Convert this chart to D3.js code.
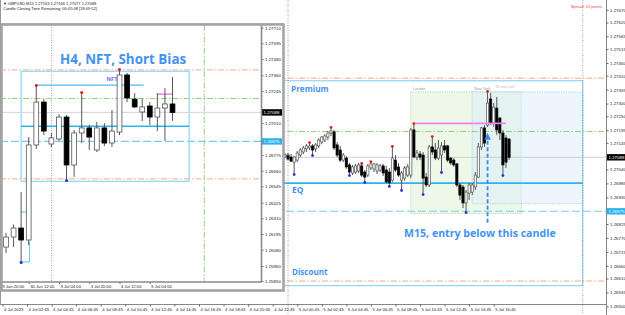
<!DOCTYPE html>
<html>
<head>
<meta charset="utf-8">
<script src="https://cdn.jsdelivr.net/npm/d3@7"></script>
<style>
  body { margin: 0; background: #fff; }
  svg { display: block; }
</style>
</head>
<body>
<div id="chart"></div>
<script>
// ---- M15 chart, bars counted from 4 Jul 00:45 (15 min each) ----
var mainFirstBar = 92;
var mainOpen = [1.27089,1.27097,1.27089,1.27069,1.27077,1.27097,1.27109,1.27121,1.27125,1.27133,
  1.27121,1.27133,1.27148,1.27156,1.27168,1.27184,1.27188,1.27137,1.27117,1.27077,
  1.27085,1.27058,1.27026,1.27030,1.27034,1.27054,1.27030,1.27018,1.27046,1.27042,
  1.27034,1.27038,1.27054,1.27038,1.27030,1.26998,1.27077,1.27050,1.26998,1.27006,
  1.27018,1.27018,1.27196,1.27089,1.27101,1.27097,1.27010,1.26979,1.27129,1.27117,
  1.27085,1.27097,1.27133,1.27133,1.27085,1.27077,1.27062,1.26979,1.26971,1.26908,
  1.26947,1.26951,1.26971,1.27010,1.27129,1.27204,1.27215,1.27318,1.27223,1.27282,
  1.27243,1.27184,1.27164,1.27160];
var mainHigh = [1.27105,1.27105,1.27101,1.27093,1.27113,1.27125,1.27133,1.27140,1.27144,1.27140,
  1.27144,1.27164,1.27172,1.27180,1.27192,1.27204,1.27196,1.27148,1.27133,1.27105,
  1.27093,1.27066,1.27058,1.27062,1.27066,1.27062,1.27038,1.27062,1.27069,1.27066,
  1.27066,1.27062,1.27062,1.27054,1.27046,1.27129,1.27097,1.27066,1.27034,1.27054,
  1.27062,1.27204,1.27219,1.27117,1.27113,1.27109,1.27026,1.27137,1.27168,1.27144,
  1.27156,1.27148,1.27156,1.27137,1.27089,1.27085,1.27066,1.26987,1.26979,1.26959,
  1.26987,1.26987,1.27030,1.27144,1.27208,1.27215,1.27346,1.27342,1.27302,1.27326,
  1.27247,1.27196,1.27176,1.27164];
var mainLow = [1.27085,1.27077,1.27069,1.27022,1.27069,1.27089,1.27101,1.27109,1.27117,1.27097,
  1.27109,1.27125,1.27140,1.27148,1.27156,1.27172,1.27117,1.27089,1.27069,1.27069,
  1.27042,1.27018,1.27018,1.27022,1.27026,1.27010,1.26991,1.27010,1.27038,1.27030,
  1.27022,1.27030,1.27014,1.26987,1.26975,1.26991,1.27030,1.27010,1.26959,1.26995,
  1.27010,1.27006,1.27085,1.27077,1.27077,1.26943,1.26971,1.26971,1.27097,1.27077,
  1.27077,1.27030,1.27105,1.27069,1.27058,1.27050,1.26971,1.26920,1.26888,1.26872,
  1.26920,1.26939,1.26959,1.27006,1.27117,1.27129,1.27208,1.27215,1.27208,1.27176,
  1.27156,1.27018,1.27046,1.27077];
var mainClose = [1.27097,1.27081,1.27073,1.27089,1.27105,1.27117,1.27125,1.27133,1.27133,1.27117,
  1.27137,1.27156,1.27168,1.27172,1.27184,1.27192,1.27125,1.27097,1.27077,1.27097,
  1.27050,1.27030,1.27050,1.27054,1.27058,1.27018,1.27010,1.27054,1.27062,1.27062,
  1.27058,1.27054,1.27026,1.26991,1.26987,1.27085,1.27038,1.27018,1.27026,1.27046,
  1.27050,1.27196,1.27089,1.27105,1.27089,1.27006,1.26979,1.27129,1.27109,1.27085,
  1.27125,1.27133,1.27117,1.27077,1.27066,1.27058,1.26979,1.26939,1.26908,1.26951,
  1.26979,1.26979,1.27018,1.27129,1.27204,1.27144,1.27302,1.27223,1.27286,1.27196,
  1.27184,1.27058,1.27069,1.27088];
var mainUpFractals = [100, 107, 117, 120, 127, 134, 140, 158];
var mainDownFractals = [95, 101, 113, 118, 126, 130, 137, 143, 151, 163];
var mainDaySeparators = [93, 189];
var mainTimeBars = [0, 8, 16, 24, 32, 40, 48, 56, 64, 72, 80, 88, 96, 104, 112, 120, 128, 136, 144, 152, 160];
var mainTimeLabels = ['4 Jul 2023', '4 Jul 02:45', '4 Jul 04:45', '4 Jul 06:45', '4 Jul 08:45', '4 Jul 10:45',
  '4 Jul 12:45', '4 Jul 14:45', '4 Jul 16:45', '4 Jul 18:45', '4 Jul 20:45', '4 Jul 22:45',
  '5 Jul 00:45', '5 Jul 02:45', '5 Jul 04:45', '5 Jul 06:45', '5 Jul 08:45', '5 Jul 10:45',
  '5 Jul 12:45', '5 Jul 14:45', '5 Jul 16:45'];
var mainPriceTicks = [1.27670, 1.27620, 1.27565, 1.27515, 1.27460, 1.27410, 1.27355, 1.27300, 1.27250,
  1.27195, 1.27145, 1.27040, 1.26985, 1.26930, 1.26825, 1.26770, 1.26715,
  1.26660, 1.26610, 1.26555, 1.26500];

// ---- H4 inset, bars counted from 30 Jun 00:00 (4 h each) ----
var h4Open = [1.26099,1.26173,1.26239,1.26151,1.26849,1.27164,1.26856,1.26893,1.27054,1.26702,1.26937,1.26974,
  1.26812,1.26974,1.26863,1.26944,1.27363,1.27186,1.27091,1.27135,1.27054,1.27120,1.27150];
var h4High = [1.26202,1.26265,1.26504,1.26907,1.27282,1.27186,1.26937,1.27076,1.27069,1.26959,1.27230,1.26996,
  1.27018,1.27010,1.27106,1.27399,1.27377,1.27230,1.27186,1.27164,1.27230,1.27267,1.27348];
var h4Low = [1.26056,1.26099,1.25990,1.26114,1.26819,1.26921,1.26834,1.26879,1.26592,1.26614,1.26863,1.26812,
  1.26797,1.26841,1.26834,1.26921,1.27164,1.27120,1.27025,1.26996,1.26951,1.26879,1.27025];
var h4Close = [1.26173,1.26239,1.26151,1.26849,1.27164,1.26951,1.26901,1.27054,1.26702,1.26937,1.26974,1.26907,
  1.26974,1.26863,1.26951,1.27363,1.27194,1.27128,1.27128,1.27054,1.27120,1.27150,1.27088];
var h4UpFractals = [4, 10, 15];
var h4DownFractals = [2, 8];
var h4TimeBars = [-1, 3, 7, 11, 15, 19];
var h4TimeLabels = ['29 Jun 20:00', '30 Jun 12:00', '3 Jul 04:00', '3 Jul 20:00', '4 Jul 12:00', '5 Jul 04:00'];
var h4PriceTicks = [1.27710, 1.27595, 1.27480, 1.27360, 1.27245, 1.27010, 1.26775, 1.26660,
  1.26545, 1.26425, 1.26310, 1.26195, 1.26080, 1.25960, 1.25850];
var h4Bracket = [[2, 1.26357], [2.8, 1.26357]];
var h4BracketLow = [[2, 1.25990], [3.1, 1.25990], [3.1, 1.26137]];

// ---- levels shared by both charts ----
var zoneLevels = [1.27390, 1.26986, 1.26582];   // premium top, EQ, discount bottom
var orangeLevels = [1.27400, 1.26600];
var greenLevel = 1.27190;
var dashedLevel = 1.26875;
var bidPrice = 1.27088;
var pinkLevel = 1.27222;
var nftLevel = 1.27288;
var sessionNames = ['London', 'New York'];
var sessionBars = [[133, 169], [153, 189]];
var sessionPrices = [[1.27346, 1.26866], [1.27346, 1.26905]];
var entryArrow = { bar: 158, from: 1.26830, to: 1.27185 };

var blueText = '#4393ee';
var zoneColor = '#8fd6f6';
var eqColor = '#2db4ef';
var orange = '#f2a07c';
var green = '#85cc74';
var dashDot = '6,2,1.5,2';

var svg = d3.select('#chart').append('svg')
  .attr('width', 625)
  .attr('height', 315);

var defs = svg.append('defs');
defs.append('clipPath').attr('id', 'clipMain').append('rect')
  .attr('x', 0).attr('y', 0).attr('width', 606).attr('height', 304);
defs.append('clipPath').attr('id', 'clipH4').append('rect')
  .attr('x', 3).attr('y', 25).attr('width', 258).attr('height', 257);

var hline = function(g, y, x1, x2, color, w, dash) {
  g.append('line')
    .attr('x1', x1).attr('x2', x2)
    .attr('y1', y).attr('y2', y)
    .attr('stroke', color)
    .attr('stroke-width', w)
    .attr('stroke-dasharray', dash || null);
};
var vline = function(g, x, y1, y2, color, w, dash) {
  g.append('line')
    .attr('x1', x).attr('x2', x)
    .attr('y1', y1).attr('y2', y2)
    .attr('stroke', color)
    .attr('stroke-width', w)
    .attr('stroke-dasharray', dash || null);
};

var drawCandles = function(g, x, y, first, O, H, L, C, bw, sw) {
  var idx = d3.range(O.length);
  g.append('g').selectAll('line').data(idx)
    .enter().append('line')
    .attr('x1', function(i) { return x(first + i); })
    .attr('x2', function(i) { return x(first + i); })
    .attr('y1', function(i) { return y(Math.max(H[i], O[i], C[i])); })
    .attr('y2', function(i) { return y(Math.min(L[i], O[i], C[i])); })
    .attr('stroke', '#444')
    .attr('stroke-width', 0.9);
  g.append('g').selectAll('rect').data(idx)
    .enter().append('rect')
    .attr('x', function(i) { return x(first + i) - bw / 2; })
    .attr('y', function(i) { return y(Math.max(O[i], C[i])); })
    .attr('width', bw)
    .attr('height', function(i) { return Math.max(0.8, Math.abs(y(O[i]) - y(C[i]))); })
    .attr('fill', function(i) { return C[i] >= O[i] ? '#fff' : '#000'; })
    .attr('stroke', function(i) { return C[i] >= O[i] ? '#555' : '#000'; })
    .attr('stroke-width', sw);
};

var drawFractals = function(g, x, y, bars, first, H, L, up, r) {
  g.append('g').selectAll('circle').data(bars)
    .enter().append('circle')
    .attr('cx', function(b) { return x(b); })
    .attr('cy', function(b) { return up ? y(H[b - first]) - 0.5 : y(L[b - first]) + 0.5; })
    .attr('r', r)
    .attr('fill', up ? '#e31a1a' : '#1a30e6');
};

var priceLabel = function(g, x, y, w, value, bg) {
  g.append('rect').attr('x', x).attr('y', y - 3.2).attr('width', w).attr('height', 6.4).attr('fill', bg);
  g.append('text').attr('x', x + 1.5).attr('y', y + 1.6)
    .attr('font-family', 'Liberation Sans, Arial, sans-serif')
    .attr('font-size', 4.4).attr('fill', '#fff')
    .text(d3.format('.5f')(value));
};

// ================= M15 chart =================
var xMain = d3.scaleLinear().domain([0, 160]).range([2.5, 493.7]);
var yMain = d3.scaleLinear().domain([1.26500, 1.27460]).range([306.4, 63]);

var main = svg.append('g');
var plot = main.append('g').attr('clip-path', 'url(#clipMain)');

// session boxes
sessionNames.forEach(function(name, s) {
  var fills = ['#dcf1d2', '#dcedfb'];
  var strokes = ['#9fd894', '#9ccdf0'];
  plot.append('rect')
    .attr('x', xMain(sessionBars[s][0]))
    .attr('y', yMain(sessionPrices[s][0]))
    .attr('width', xMain(sessionBars[s][1]) - xMain(sessionBars[s][0]))
    .attr('height', yMain(sessionPrices[s][1]) - yMain(sessionPrices[s][0]))
    .attr('fill', fills[s]).attr('fill-opacity', 0.5)
    .attr('stroke', strokes[s]).attr('stroke-width', 0.8)
    .attr('stroke-dasharray', '1.2,1.2');
  plot.append('text')
    .attr('x', xMain(sessionBars[s][0]) + 2)
    .attr('y', yMain(sessionPrices[s][0]) - 2)
    .attr('font-family', 'Liberation Sans, Arial, sans-serif')
    .attr('font-size', 3.8).attr('fill', '#9a9a9a')
    .text(name);
});
plot.append('text')
  .attr('x', xMain(160.5)).attr('y', yMain(sessionPrices[1][0]) - 4)
  .attr('font-family', 'Liberation Sans, Arial, sans-serif')
  .attr('font-size', 3.8).attr('fill', '#bdbdbd')
  .text('10 mins left');

// day separators
mainDaySeparators.forEach(function(b) {
  vline(main, xMain(b), 0, 315, '#888', 0.8, '1,1.5');
});

// horizontal levels
orangeLevels.forEach(function(p) { hline(plot, yMain(p), 0, 606, orange, 0.9, dashDot); });
hline(plot, yMain(greenLevel), 0, 606, green, 0.9, dashDot);
hline(plot, yMain(bidPrice), 0, 606, '#c8c8c8', 0.9);
hline(plot, yMain(dashedLevel), 0, 606, '#78cbef', 1.1, '8,3');

// premium / discount zone
plot.append('rect')
  .attr('x', xMain(-60)).attr('y', yMain(zoneLevels[0]))
  .attr('width', xMain(189) - xMain(-60))
  .attr('height', yMain(zoneLevels[2]) - yMain(zoneLevels[0]))
  .attr('fill', 'none').attr('stroke', zoneColor).attr('stroke-width', 1.2);
hline(plot, yMain(zoneLevels[1]), xMain(-60), xMain(189), eqColor, 1.8);

drawCandles(plot, xMain, yMain, mainFirstBar, mainOpen, mainHigh, mainLow, mainClose, 2.2, 0.7);
hline(plot, yMain(pinkLevel), xMain(134.5), xMain(164), '#ee82ee', 1.6);
drawFractals(plot, xMain, yMain, mainUpFractals, mainFirstBar, mainHigh, mainLow, true, 1.4);
drawFractals(plot, xMain, yMain, mainDownFractals, mainFirstBar, mainHigh, mainLow, false, 1.4);

// entry arrow
var ax = xMain(entryArrow.bar);
vline(plot, ax, yMain(entryArrow.from), yMain(entryArrow.to) + 5, '#3f86e8', 1.8, '4,2.5');
plot.append('path')
  .attr('d', 'M' + ax + ',' + yMain(entryArrow.to) + 'l3.2,7h-6.4z')
  .attr('fill', '#3f86e8');

// zone texts
var bold = function(g, x, y, size, txt) {
  g.append('text').attr('x', x).attr('y', y)
    .attr('font-family', 'Open Sans, sans-serif')
    .attr('font-weight', 'bold')
    .attr('font-size', size)
    .attr('fill', blueText)
    .text(txt);
};
bold(main, 291, yMain(zoneLevels[0]) + 11, 8.2, 'Premium');
bold(main, 292, yMain(zoneLevels[1]) + 9.5, 8.4, 'EQ');
bold(main, 292, yMain(zoneLevels[2]) - 11, 8, 'Discount');
bold(main, 404, 237, 10.6, 'M15, entry below this candle');

// axes
vline(main, 606.5, 0, 315, '#888', 1);
hline(main, 304.5, 0, 606, '#888', 1);
vline(main, 0.5, 0, 304, '#999', 1);

var yAxisMain = d3.axisRight(yMain).tickValues(mainPriceTicks)
  .tickFormat(d3.format('.5f')).tickSize(2).tickPadding(1.5);
main.append('g').attr('transform', 'translate(606.5,0)').call(yAxisMain)
  .call(function(g) { g.select('.domain').remove(); })
  .call(function(g) { g.selectAll('line').attr('stroke', '#666'); })
  .selectAll('text')
  .attr('font-family', 'Liberation Sans, Arial, sans-serif')
  .attr('font-size', 4.4).attr('fill', '#222');

var xAxisMain = d3.axisBottom(xMain).tickValues(mainTimeBars)
  .tickFormat(function(d, i) { return mainTimeLabels[i]; })
  .tickSize(2).tickPadding(1.8);
main.append('g').attr('transform', 'translate(0,304.5)').call(xAxisMain)
  .call(function(g) { g.select('.domain').remove(); })
  .call(function(g) { g.selectAll('line').attr('stroke', '#666'); })
  .selectAll('text')
  .attr('text-anchor', 'start').attr('dx', 1)
  .attr('font-family', 'Liberation Sans, Arial, sans-serif')
  .attr('font-size', 4.2).attr('fill', '#222');

priceLabel(main, 607, yMain(bidPrice), 18, bidPrice, '#000');
priceLabel(main, 607, yMain(dashedLevel), 18, dashedLevel, '#29b3ef');

// header + spread
var small = function(g, x, y, size, color, txt, anchor) {
  g.append('text').attr('x', x).attr('y', y)
    .attr('font-family', 'Liberation Sans, Arial, sans-serif')
    .attr('font-size', size).attr('fill', color)
    .attr('text-anchor', anchor || 'start')
    .text(txt);
};
small(main, 3, 5.4, 4, '#222', '\u25BC GBPUSD,M15  1.27163 1.27166 1.27077 1.27088');
small(main, 3, 10.2, 4, '#222', 'Candle Closing Time Remaining: 00:05:08 [18:09:52]');
small(main, 602, 8, 4, '#f03c3c', 'Spread: 13 points', 'end');
hline(main, 24, 0, 284, '#aaa', 1);

// ================= H4 inset =================
var xH4 = d3.scaleLinear().domain([0, 22]).range([6, 172.5]);
var yH4 = d3.scaleLinear().domain([1.25850, 1.27710]).range([281, 27.7]);

var inset = svg.append('g');
inset.append('rect').attr('x', 1.5).attr('y', 24.5).attr('width', 282).attr('height', 266)
  .attr('fill', '#fff');
var ip = inset.append('g').attr('clip-path', 'url(#clipH4)');

vline(ip, xH4(6), 25, 282, '#888', 0.8, '1,1.5');
vline(ip, xH4(26.2), 25, 282, green, 0.9, dashDot);
orangeLevels.forEach(function(p) { hline(ip, yH4(p), 0, 262, orange, 0.9, dashDot); });
hline(ip, yH4(greenLevel), 0, 262, green, 0.9, dashDot);
hline(ip, yH4(bidPrice), 0, 262, '#cfcfcf', 0.9);
hline(ip, yH4(dashedLevel), 0, 262, '#78cbef', 1.1, '8,3');

ip.append('rect')
  .attr('x', xH4(2)).attr('y', yH4(zoneLevels[0]))
  .attr('width', xH4(24.2) - xH4(2))
  .attr('height', yH4(zoneLevels[2]) - yH4(zoneLevels[0]))
  .attr('fill', 'none').attr('stroke', zoneColor).attr('stroke-width', 1.2);
hline(ip, yH4(zoneLevels[1]), xH4(2), xH4(24.2), eqColor, 1.5);
hline(ip, yH4(nftLevel), xH4(4), xH4(18.2), '#4fbdf0', 1.2);
hline(ip, yH4(pinkLevel), xH4(20), xH4(22), '#ee82ee', 1.5);

var bracketLine = d3.line().x(function(d) { return xH4(d[0]); }).y(function(d) { return yH4(d[1]); });
[h4Bracket, h4BracketLow].forEach(function(pts) {
  ip.append('path').attr('d', bracketLine(pts)).attr('fill', 'none')
    .attr('stroke', '#5cc6f2').attr('stroke-width', 1);
});

drawCandles(ip, xH4, yH4, 0, h4Open, h4High, h4Low, h4Close, 4.8, 0.8);
drawFractals(ip, xH4, yH4, h4UpFractals, 0, h4High, h4Low, true, 1.5);
drawFractals(ip, xH4, yH4, h4DownFractals, 0, h4High, h4Low, false, 1.5);

ip.append('text').attr('x', xH4(14)).attr('y', yH4(nftLevel) - 4)
  .attr('text-anchor', 'middle')
  .attr('font-family', 'Open Sans, sans-serif').attr('font-weight', 'bold')
  .attr('font-size', 5.6).attr('fill', '#7b6cf0')
  .text('NFT');

bold(inset, 60, 64, 13.4, 'H4, NFT, Short Bias');

// inset axes
var yAxisH4 = d3.axisRight(yH4).tickValues(h4PriceTicks)
  .tickFormat(d3.format('.5f')).tickSize(2).tickPadding(1.5);
inset.append('g').attr('transform', 'translate(261.5,0)').call(yAxisH4)
  .call(function(g) { g.select('.domain').remove(); })
  .call(function(g) { g.selectAll('line').attr('stroke', '#666'); })
  .selectAll('text')
  .attr('font-family', 'Liberation Sans, Arial, sans-serif')
  .attr('font-size', 4.4).attr('fill', '#222');

var xAxisH4 = d3.axisBottom(xH4).tickValues(h4TimeBars)
  .tickFormat(function(d, i) { return h4TimeLabels[i]; })
  .tickSize(2).tickPadding(1);
inset.append('g').attr('transform', 'translate(0,282)').call(xAxisH4)
  .call(function(g) { g.select('.domain').remove(); })
  .call(function(g) { g.selectAll('line').attr('stroke', '#666'); })
  .selectAll('text')
  .attr('text-anchor', 'start').attr('dx', 1)
  .attr('font-family', 'Liberation Sans, Arial, sans-serif')
  .attr('font-size', 4.2).attr('fill', '#222');

priceLabel(inset, 262, yH4(bidPrice), 20, bidPrice, '#000');
priceLabel(inset, 262, yH4(dashedLevel), 20, dashedLevel, '#29b3ef');

// inner plot edges and window frame
vline(inset, 261.5, 25, 282, '#8a8a8a', 1.6);
hline(inset, 282, 2, 262, '#8a8a8a', 1.6);
inset.append('rect').attr('x', 1.5).attr('y', 24.5).attr('width', 282).attr('height', 266)
  .attr('fill', 'none').attr('stroke', '#a4a4a4').attr('stroke-width', 2.6);
</script>
</body>
</html>
